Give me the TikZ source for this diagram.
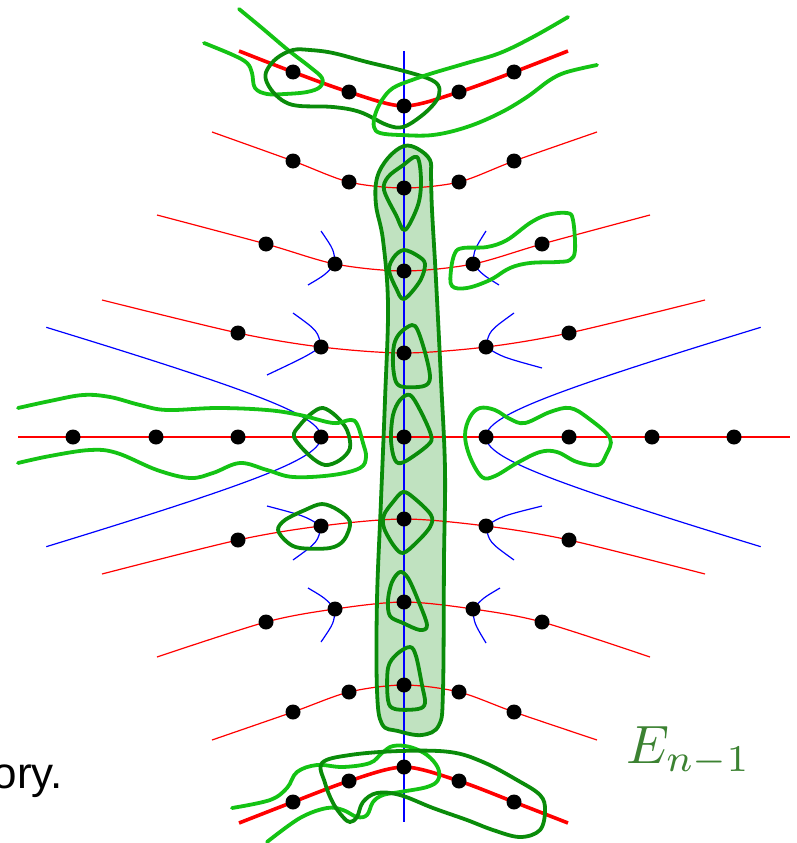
\documentclass[tikz,border=0pt]{standalone}
\usepackage{fontspec}
\newfontfamily\labelsans{Liberation Sans}
\definecolor{brightg}{RGB}{20,195,20}
\definecolor{darkg}{RGB}{10,140,10}
\definecolor{fillg}{RGB}{192,226,192}
\definecolor{labelg}{RGB}{60,130,50}
\tikzset{
  redthin/.style={red, line width=1.2pt},
  redthick/.style={red, line width=3.6pt},
  blueline/.style={blue, line width=1.2pt},
  brightloop/.style={brightg, line width=3.8pt, line join=round, line cap=round},
  darkloop/.style={darkg, line width=3.8pt, line join=round},
  blackdot/.style={fill=black},
}
\begin{document}
\begin{tikzpicture}[x=1pt,y=-1pt]
\clip (0,0) rectangle (797,843);
% central filled column
\fill[fillg] plot[smooth cycle, tension=0.6] coordinates {(404,146) (418,149) (430,160) (431,176) (432,210) (436,280) (441,380) (445,470) (444,560) (443,690) (439,725) (422,735) (398,731) (382,724) (377,690) (377,600) (381,500) (385,400) (388,305) (383,240) (376,205) (377,178) (388,158)};
% red rows
\draw[redthick] plot[smooth] coordinates {(239,51) (293,72) (349,92) (404,106) (459,92) (514,72) (568,51)};
\draw[redthin] plot[smooth] coordinates {(212,132) (293,161) (349,182) (404,188) (459,182) (514,161) (597,132)};
\draw[redthin] plot[smooth] coordinates {(157,215) (266,244) (335,264) (404,271) (473,264) (542,244) (650,215)};
\draw[redthin] plot[smooth] coordinates {(102,300) (238,333) (321,347) (404,353) (486,347) (569,333) (705,300)};
\draw[redthin] (18,437) -- (790,437);
\draw[redthin] plot[smooth] coordinates {(102,574) (238,540) (321,526) (404,519) (486,526) (569,540) (705,574)};
\draw[redthin] plot[smooth] coordinates {(157,657) (266,622) (335,609) (404,602) (473,609) (542,622) (650,657)};
\draw[redthin] plot[smooth] coordinates {(212,740) (293,712) (349,692) (404,685) (459,692) (514,712) (597,740)};
\draw[redthick] plot[smooth] coordinates {(239,823) (293,802) (349,781) (404,767) (459,781) (514,802) (568,823)};
% blue lines
\draw[blueline] (404,51) -- (404,822);
\draw[blueline] plot[domain=-1.86:1.86, samples=60, smooth] ({321-120*(cosh(\x)-1)},{437+35*sinh(\x)});
\draw[blueline] plot[domain=-1.86:1.86, samples=60, smooth] ({486+120*(cosh(\x)-1)},{437+35*sinh(\x)});
\draw[blueline] (335,264) .. controls (334,250) .. (321,231);
\draw[blueline] (335,264) .. controls (325,275) .. (308,285);
\draw[blueline] (473,264) .. controls (474,250) .. (486,231);
\draw[blueline] (473,264) .. controls (483,275) .. (499,285);
\draw[blueline] (321,347) .. controls (318,331) .. (293,313);
\draw[blueline] (321,347) .. controls (305,357) .. (267,375);
\draw[blueline] (486,347) .. controls (489,331) .. (514,313);
\draw[blueline] (486,347) .. controls (502,357) .. (542,368);
\draw[blueline] (321,526) .. controls (305,516) .. (267,506);
\draw[blueline] (321,526) .. controls (318,542) .. (293,560);
\draw[blueline] (486,526) .. controls (502,516) .. (542,506);
\draw[blueline] (486,526) .. controls (489,542) .. (514,560);
\draw[blueline] (335,609) .. controls (325,598) .. (308,588);
\draw[blueline] (335,609) .. controls (334,623) .. (321,642);
\draw[blueline] (473,609) .. controls (483,598) .. (500,588);
\draw[blueline] (473,609) .. controls (474,623) .. (486,643);
% column outline
\draw[darkloop] plot[smooth cycle, tension=0.6] coordinates {(404,146) (418,149) (430,160) (431,176) (432,210) (436,280) (441,380) (445,470) (444,560) (443,690) (439,725) (422,735) (398,731) (382,724) (377,690) (377,600) (381,500) (385,400) (388,305) (383,240) (376,205) (377,178) (388,158)};
% small loops in the column
\draw[darkloop] plot[smooth cycle, tension=0.55] coordinates {(417,157) (421,180) (418,205) (405,230) (396,215) (384,190) (388,177) (402,166)};
\draw[darkloop] plot[smooth cycle, tension=0.55] coordinates {(404,250) (418,256) (425,264) (420,281) (404,299) (396,288) (389,270) (394,257)};
\draw[darkloop] plot[smooth cycle, tension=0.55] coordinates {(412,325) (418,331) (426,356) (430,378) (424,386) (404,387) (396,382) (393,365) (394,345) (400,333)};
\draw[darkloop] plot[smooth cycle, tension=0.55] coordinates {(410,395) (420,410) (431,435) (428,445) (404,462) (395,460) (391,440) (393,415) (400,400)};
\draw[darkloop] plot[smooth cycle, tension=0.55] coordinates {(403,492) (414,498) (431,515) (430,527) (416,543) (403,553) (394,546) (384,528) (384,515) (393,502)};
\draw[darkloop] plot[smooth cycle, tension=0.55] coordinates {(400,572) (408,578) (418,600) (427,625) (420,630) (403,623) (390,616) (388,600) (392,582)};
\draw[darkloop] plot[smooth cycle, tension=0.55] coordinates {(410,647) (416,656) (422,685) (425,703) (418,709) (395,709) (388,700) (388,668) (397,654)};
% side loops
\draw[darkloop] plot[smooth cycle, tension=0.55] coordinates {(323,408) (336,416) (347,430) (350,448) (340,460) (325,465) (310,456) (294,437) (300,425) (312,413)};
\draw[darkloop] plot[smooth cycle, tension=0.55] coordinates {(322,504) (338,510) (350,522) (344,540) (330,548) (300,548) (287,542) (278,530) (285,520) (305,510)};
\draw[brightloop] plot[smooth, tension=0.6] coordinates {(18,408) (50,401) (83,395) (110,397) (140,405) (167,410) (217,408) (267,410) (300,415) (333,423) (350,420) (357,424) (363,443) (366,457) (360,468) (333,475) (293,477) (267,470) (240,463) (213,473) (190,478) (157,470) (117,453) (90,450) (50,456) (18,463)};
\draw[brightloop] plot[smooth cycle, tension=0.6] coordinates {(470,417) (480,408) (495,410) (510,419) (525,423) (550,412) (570,408) (588,418) (610,438) (606,455) (598,465) (577,462) (557,452) (540,452) (517,463) (495,476) (482,477) (470,457) (465,435)};
\draw[brightloop] plot[smooth cycle, tension=0.6] coordinates {(455,253) (463,248) (487,247) (507,240) (530,223) (547,215) (567,213) (573,220) (575,250) (570,260) (557,262) (530,263) (510,268) (490,280) (467,288) (452,286) (451,270)};
% top curves
\draw[brightloop] plot[smooth, tension=0.6] coordinates {(239,9) (262,28) (288,50) (310,67) (322,78) (320,87) (307,92) (285,94) (267,94) (255,88) (252,73) (247,63) (233,55) (204,43)};
\draw[darkloop] plot[smooth cycle, tension=0.6] coordinates {(293,50) (310,50) (333,53) (367,62) (400,70) (427,78) (438,85) (439,95) (433,105) (420,117) (403,127) (387,125) (360,112) (333,107) (300,106) (285,102) (273,92) (266,80) (267,70) (277,58)};
\draw[brightloop] plot[smooth, tension=0.6] coordinates {(568,17) (533,37) (500,53) (467,63) (433,73) (412,80) (393,88) (382,100) (375,115) (374,127) (380,133) (400,135) (433,135) (467,127) (500,113) (527,97) (550,80) (567,72) (597,65)};
% bottom curves
\draw[brightloop] plot[smooth, tension=0.6] coordinates {(267,842) (300,818) (327,808) (343,810) (357,817) (367,815) (373,802) (383,795) (400,792) (427,787) (438,780) (438,768) (427,755) (410,747) (393,746) (382,753) (370,763) (343,767) (317,765) (297,772) (287,788) (270,800) (232,808)};
\draw[darkloop] plot[smooth cycle, tension=0.6] coordinates {(322,763) (350,755) (400,751) (450,752) (483,762) (517,780) (540,795) (545,810) (540,830) (520,837) (493,830) (467,820) (433,808) (400,795) (377,793) (363,802) (357,817) (350,822) (343,817) (333,803) (325,783)};
% dots
\foreach \p in {(293,72),(349,92),(404,106),(459,92),(514,72),
  (293,161),(349,182),(404,188),(459,182),(514,161),
  (266,244),(335,264),(404,271),(473,264),(542,244),
  (238,333),(321,347),(404,353),(486,347),(569,333),
  (73,437),(156,437),(238,437),(321,437),(404,437),(486,437),(569,437),(652,437),(734,437),
  (238,540),(321,526),(404,519),(486,526),(569,540),
  (266,622),(335,609),(404,602),(473,609),(542,622),
  (293,712),(349,692),(404,685),(459,692),(514,712),
  (293,802),(349,781),(404,767),(459,781),(514,802)}
  \fill[blackdot] \p circle[radius=7.5];
% labels
\node[anchor=base east, inner sep=0pt] (oryText) at (63,788) {\labelsans\fontsize{44}{50}\selectfont ory.};
\node[anchor=base west, inner sep=0pt, text=labelg] (enLabel) at (626,763) {\scalebox{5.4}{$E_{n-1}$}};
\end{tikzpicture}
\end{document}
